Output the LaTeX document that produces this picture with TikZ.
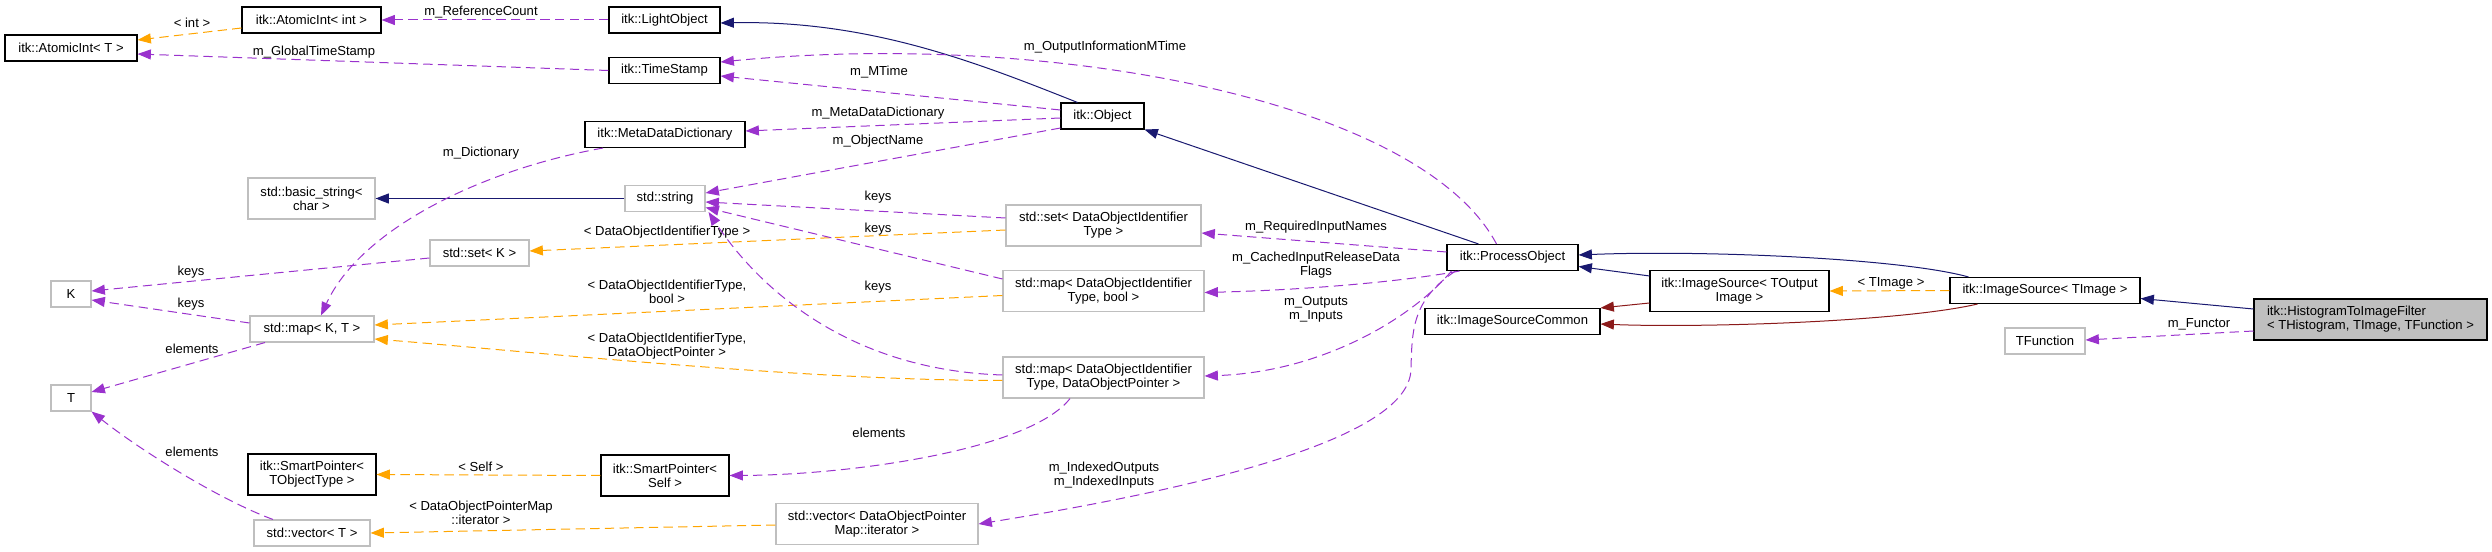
\documentclass[tikz,border=0pt]{standalone}
\usepackage{fontspec}
\setmainfont{Liberation Sans}
\usetikzlibrary{arrows.meta,calc}
\definecolor{inhblue}{HTML}{191970}
\definecolor{usepurple}{HTML}{9A32CD}
\definecolor{tplorange}{HTML}{FFA500}
\definecolor{protred}{HTML}{8B1A1A}
\definecolor{extgray}{HTML}{BFBFBF}
\tikzset{
  cls/.style    = {draw=black,fill=white,line width=0.8pt,inner sep=0pt,
                   minimum height=19.5pt,align=center},
  extcls/.style = {cls,draw=extgray},
  tall/.style   = {minimum height=30.75pt},
  wd/.style     = {minimum width=#1*0.75pt},
  lnk/.style    = {line width=0.75pt,-{Triangle[length=10pt,width=7.5pt]}},
  inh/.style    = {lnk,draw=inhblue},
  prot/.style   = {lnk,draw=protred},
  usage/.style  = {lnk,draw=usepurple,dash pattern=on 7pt off 4pt},
  tpl/.style    = {lnk,draw=tplorange,dash pattern=on 7pt off 4pt},
  lbl/.style    = {inner sep=0pt,align=center,text=black},
}

\begin{document}
\begin{tikzpicture}[x=0.75pt,y=-0.75pt,font=\fontsize{9.8}{10.5}\selectfont]
  \useasboundingbox (0,0) rectangle (2492,552);

  % classes
  \node[cls,wd=132] (aintT) at (71,48) {itk::AtomicInt< T >};
  \node[cls,wd=139] (aintI) at (311.5,20) {itk::AtomicInt< int >};
  \node[cls,wd=111] (lobj) at (664.5,20) {itk::LightObject};
  \node[cls,wd=111] (tstamp) at (664.5,70.5) {itk::TimeStamp};
  \node[cls,wd=160] (mdd) at (665,134.5) {itk::MetaDataDictionary};
  \node[cls,wd=83] (obj) at (1102.5,116) {itk::Object};
  \node[extcls,tall,wd=127] (bstr) at (311.5,198.5) {std::basic\_string<\\char >};
  \node[extcls,wd=80] (str) at (665,198.5) {std::string};
  \node[extcls,tall,wd=195] (setdoi) at (1103.5,225.5) {std::set< DataObjectIdentifier\\Type >};
  \node[extcls,wd=99] (setk) at (479.5,253) {std::set< K >};
  \node[extcls,wd=40] (k) at (71,294) {K};
  \node[extcls,wd=124] (mapkt) at (312,329) {std::map< K, T >};
  \node[extcls,wd=40] (t) at (71,398) {T};
  \node[extcls,tall,wd=201] (mapdb) at (1103.5,291) {std::map< DataObjectIdentifier\\Type, bool >};
  \node[extcls,tall,wd=201] (mapdp) at (1103.5,377.5) {std::map< DataObjectIdentifier\\Type, DataObjectPointer >};
  \node[cls,tall,wd=128] (spto) at (312,474.5) {itk::SmartPointer<\\TObjectType >};
  \node[cls,tall,wd=128] (spself) at (665,475.5) {itk::SmartPointer<\\Self >};
  \node[extcls,wd=116] (vect) at (312,533) {std::vector< T >};
  \node[extcls,tall,wd=202] (vecdp) at (877,524) {std::vector< DataObjectPointer\\Map::iterator >};
  \node[cls,wd=131] (po) at (1512.5,257.5) {itk::ProcessObject};
  \node[cls,tall,wd=179] (isto) at (1739.5,291) {itk::ImageSource< TOutput\\Image >};
  \node[cls,wd=175] (isc) at (1512.5,321.5) {itk::ImageSourceCommon};
  \node[cls,wd=190] (ist) at (2045,290.5) {itk::ImageSource< TImage >};
  \node[cls,tall,wd=233,fill=extgray,align=left] (htif) at (2370.5,319.5)
       {itk::HistogramToImageFilter\\< THistogram, TImage, TFunction >};
  \node[extcls,wd=80] (tfun) at (2045,341) {TFunction};

  % inheritance (public / protected)
  \draw[inh] ($(obj.north)+(-25,0)$) .. controls (978,63) and (870,20) .. ($(lobj.east)+(0,3)$);
  \draw[inh] (str.west) -- (bstr.east);
  \draw[inh] ($(po.north)+(-34,0)$) -- (obj.south east);
  \draw[inh] ($(isto.north west)+(0,6)$) -- ($(po.east)+(0,9)$);
  \draw[inh] ($(ist.north west)+(19,0)$) .. controls (1900,258) and (1700,250) .. ($(po.east)+(0,-2.5)$);
  \draw[inh] ($(htif.west)+(0,-10.5)$) -- ($(ist.east)+(0,8)$);
  \draw[prot] ($(isto.west)+(0,12)$) -- (isc.north east);
  \draw[prot] ($(ist.south west)+(28,0)$) .. controls (1900,322) and (1700,328) .. ($(isc.east)+(0,2.5)$);

  % template instances
  \draw[tpl] ($(aintI.west)+(0,8)$) -- ($(aintT.east)+(0,-8)$)
     node[lbl] at (192,23) {< int >};
  \draw[tpl] ($(setdoi.west)+(0,4.5)$) -- ($(setk.east)+(0,-2)$)
     node[lbl] at (667,232) {< DataObjectIdentifierType >};
  \draw[tpl] ($(mapdb.west)+(0,4.5)$) -- ($(mapkt.east)+(0,-4)$)
     node[lbl] at (667,292) {< DataObjectIdentifierType,\\bool >};
  \draw[tpl] ($(mapdp.west)+(0,3)$) .. controls (802,380.5) and (524,351) .. ($(mapkt.east)+(0,10)$)
     node[lbl] at (667,346) {< DataObjectIdentifierType,\\DataObjectPointer >};
  \draw[tpl] (spself.west) -- (spto.east)
     node[lbl] at (481,467) {< Self >};
  \draw[tpl] ($(vecdp.west)+(0,1)$) -- (vect.east)
     node[lbl] at (481,513) {< DataObjectPointerMap\\::iterator >};
  \draw[tpl] (ist.west) -- (isto.east)
     node[lbl] at (1891,283) {< TImage >};

  % usage relations
  \draw[usage] (lobj.west) -- (aintI.east)
     node[lbl] at (481,12) {m\_ReferenceCount};
  \draw[usage] (tstamp.west) -- ($(aintT.east)+(0,6)$)
     node[lbl] at (314,52) {m\_GlobalTimeStamp};
  \draw[usage] ($(po.north)+(-16,0)$) .. controls (1420,100) and (1050,30) .. ($(tstamp.east)+(0,-8.5)$)
     node[lbl] at (1105,47) {m\_OutputInformationMTime};
  \draw[usage] ($(obj.west)+(0,-6)$) -- ($(tstamp.east)+(0,5.5)$)
     node[lbl] at (879,72) {m\_MTime};
  \draw[usage] ($(obj.west)+(0,2)$) -- ($(mdd.east)+(0,-3.5)$)
     node[lbl] at (878,113) {m\_MetaDataDictionary};
  \draw[usage] ($(obj.west)+(0,12)$) -- ($(str.east)+(0,-5.5)$)
     node[lbl] at (878,141) {m\_ObjectName};
  \draw[usage] ($(mdd.south)+(-62,0)$) .. controls (480,170) and (360,230) .. ($(mapkt.north)+(9,0)$)
     node[lbl] at (481,153) {m\_Dictionary};
  \draw[usage] ($(setdoi.west)+(0,-7.5)$) -- ($(str.east)+(0,3.5)$)
     node[lbl] at (878,197) {keys};
  \draw[usage] ($(mapdb.west)+(0,-12)$) -- ($(str.east)+(0,9)$)
     node[lbl] at (878,229) {keys};
  \draw[usage] ($(mapdp.west)+(0,-2.5)$) .. controls (850,370) and (760,290) .. ($(str.south east)+(3,0)$)
     node[lbl] at (878,287) {keys};
  \draw[usage] ($(setk.west)+(0,5)$) -- ($(k.east)+(0,-3)$)
     node[lbl] at (191,272) {keys};
  \draw[usage] ($(mapkt.west)+(0,-6)$) -- ($(k.east)+(0,6)$)
     node[lbl] at (191,304) {keys};
  \draw[usage] ($(mapkt.south)+(-47,0)$) -- ($(t.east)+(0,-6)$)
     node[lbl] at (192,349) {elements};
  \draw[usage] ($(vect.north)+(-39,0)$) .. controls (220,500) and (140,450) .. (t.south east)
     node[lbl] at (192,452) {elements};
  \draw[usage] ($(mapdp.south)+(-33.5,0)$) .. controls (1030,450) and (850,475) .. (spself.east)
     node[lbl] at (879,433) {elements};
  \draw[usage] ($(po.west)+(0,-5.5)$) -- ($(setdoi.east)+(0,7.5)$)
     node[lbl] at (1316,227) {m\_RequiredInputNames};
  \draw[usage] ($(po.south west)+(13,0)$) .. controls (1400,282) and (1304,290) .. ($(mapdb.east)+(0,1.5)$)
     node[lbl] at (1316,265) {m\_CachedInputReleaseData\\Flags};
  \draw[usage] ($(po.south west)+(5,0)$) .. controls (1410,320) and (1320,372) .. ($(mapdp.east)+(0,-1.5)$)
     node[lbl] at (1316,309) {m\_Outputs\\m\_Inputs};
  \draw[usage] ($(po.south west)+(9,0)$) .. controls (1412,300) and (1412,330) .. (1411,369)
     .. controls (1410,430) and (1250,480) .. (vecdp.east)
     node[lbl] at (1104,475) {m\_IndexedOutputs\\m\_IndexedInputs};
  \draw[usage] ($(htif.west)+(0,11.5)$) -- ($(tfun.east)+(0,-1)$)
     node[lbl] at (2199,324) {m\_Functor};
\end{tikzpicture}
\end{document}
